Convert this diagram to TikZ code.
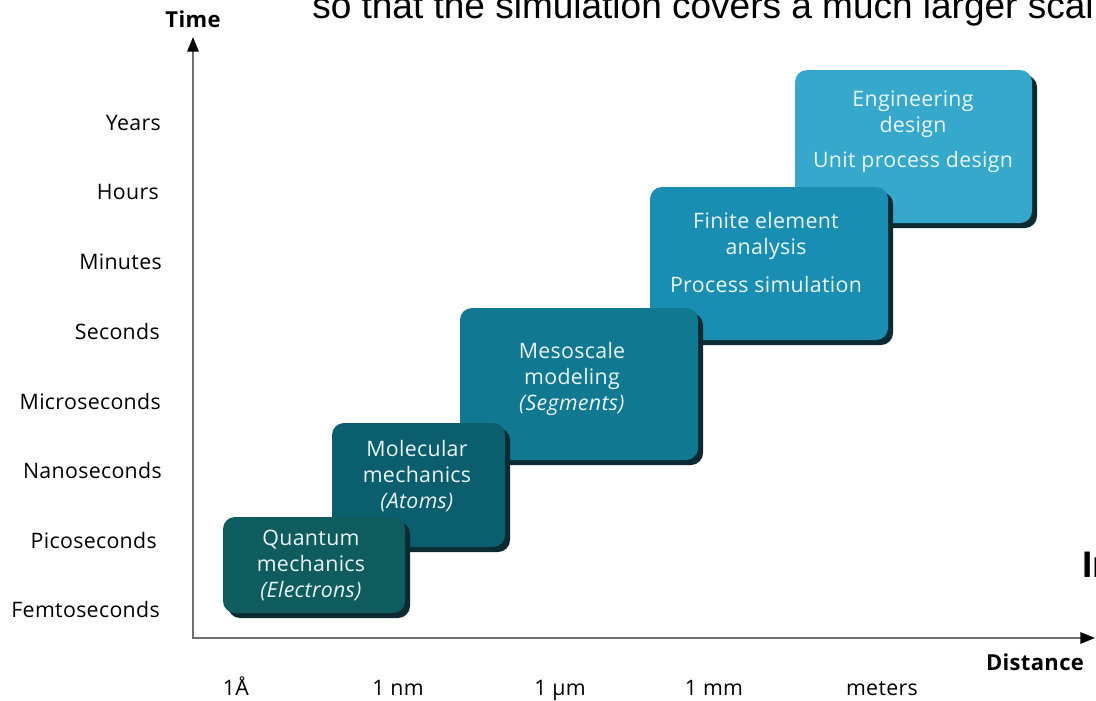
\documentclass[tikz,border=0pt]{standalone}
\usepackage{fontspec}
\setmainfont{Open Sans}[LetterSpace=1.5]
\newfontfamily\arialf{Liberation Sans}
\usetikzlibrary{arrows.meta,shadows}
\definecolor{cq}{HTML}{0F5C5F}
\definecolor{cm}{HTML}{0B5E6E}
\definecolor{cs}{HTML}{107890}
\definecolor{cf}{HTML}{1A8EB2}
\definecolor{ce}{HTML}{35A8CC}
\definecolor{shadowc}{HTML}{0C2A31}
\definecolor{boxtxt}{HTML}{EAF5F6}
\definecolor{axisgray}{HTML}{707070}
\tikzset{
  box/.style={rounded corners=9pt, inner sep=0pt,
    drop shadow={shadow xshift=3.75pt, shadow yshift=-3.75pt, fill=shadowc, opacity=1}},
  boxtext/.style={text=boxtxt, align=center, anchor=base, inner sep=0pt,
    font=\fontsize{16}{19.5}\selectfont},
  tlabel/.style={anchor=base east, inner sep=0pt, font=\fontsize{16}{18}\selectfont},
  dlabel/.style={anchor=base, inner sep=0pt, font=\fontsize{16}{18}\selectfont},
  axtitle/.style={anchor=base, inner sep=0pt, font=\fontsize{16.5}{18}\selectfont\bfseries},
  axisline/.style={draw=axisgray, line width=1.5pt,
    {Triangle[length=11pt,width=8.5pt,color=black]}-{Triangle[length=11pt,width=8.5pt,color=black]}},
  overlay text/.style={anchor=base west, inner sep=0pt, font=\arialf\fontsize{27.75}{32}\selectfont}
}
\begin{document}
\begin{tikzpicture}[x=0.75pt,y=-0.75pt]
\useasboundingbox (0,0) rectangle (1096,700);
\fill[white] (0,0) rectangle (1096,700);

% axes
\coordinate (ytip) at (193,37);
\coordinate (origin) at (193,638);
\coordinate (xtip) at (1095,638);
\draw[axisline] (ytip) -- (origin) -- (xtip);
\node[axtitle] (time) at (193,27) {Time};
\node[axtitle] (distance) at (1035,670) {Distance};

% time labels
\node[tlabel] (years) at (161,130.5) {Years};
\node[tlabel] (hours) at (159,199.5) {Hours};
\node[tlabel] (minutes) at (162,269.5) {Minutes};
\node[tlabel] (seconds) at (160,339.5) {Seconds};
\node[tlabel] (micro) at (161,409.5) {Microseconds};
\node[tlabel] (nano) at (162,478.5) {Nanoseconds};
\node[tlabel] (pico) at (157,548.5) {Picoseconds};
\node[tlabel] (femto) at (160,617.5) {Femtoseconds};

% distance labels
\node[dlabel] (angstrom) at (236,695) {1Å};
\node[dlabel] (nm) at (398,695) {1 nm};
\node[dlabel] (um) at (560,695) {1 µm};
\node[dlabel] (mm) at (714,695) {1 mm};
\node[dlabel] (meters) at (882,695) {meters};

% boxes (back to front)
\node[box, fill=ce, minimum width=177.75pt, minimum height=114.75pt] (eng) at (913.5,146.5) {};
\node[boxtext] (engt) at (913,167) {Engineering\\design\\[6.75pt]Unit process design};

\node[box, fill=cf, minimum width=178.5pt, minimum height=114.75pt] (fem) at (769,263.5) {};
\node[boxtext] (femt) at (766,292) {Finite element\\analysis\\[9pt]Process simulation};

\node[box, fill=cs, minimum width=178.5pt, minimum height=114pt] (meso) at (579,384) {};
\node[boxtext] (mesot) at (572,410) {Mesoscale\\modeling\\\textit{(Segments)}};

\node[box, fill=cm, minimum width=129.75pt, minimum height=93pt] (mol) at (418.5,485) {};
\node[boxtext] (molt) at (417,508) {Molecular\\mechanics\\\textit{(Atoms)}};

\node[box, fill=cq, minimum width=136.5pt, minimum height=72pt] (qm) at (314,565) {};
\node[boxtext] (qmt) at (311,597) {Quantum\\mechanics\\\textit{(Electrons)}};

% overlapping text from the surrounding page
\node[overlay text] (toptext) at (312,18) {so that the simulation covers a much larger scal};
\node[overlay text, font=\arialf\fontsize{27.75}{32}\selectfont\bfseries] (intext) at (1082,577) {In};
\end{tikzpicture}
\end{document}
